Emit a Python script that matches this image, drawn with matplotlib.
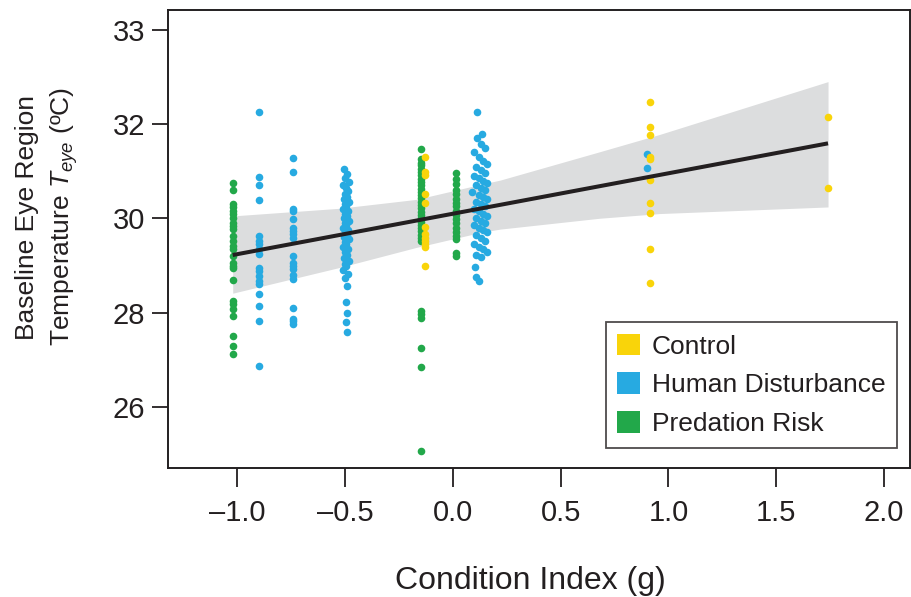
import matplotlib
matplotlib.use('Agg')
import matplotlib.pyplot as plt
from matplotlib.patches import Patch

plt.rcParams['font.family'] = ['Liberation Sans', 'DejaVu Sans']
plt.rcParams['mathtext.fontset'] = 'custom'
plt.rcParams['mathtext.it'] = 'Liberation Sans:italic'
plt.rcParams['mathtext.rm'] = 'Liberation Sans'

# Цвета групп
c_control = '#F9D40A'
c_human = '#27AAE1'
c_pred = '#22A84A'

# Данные: Predation Risk
pred_a_x = -1.02
pred_a_y = [30.74, 30.60, 30.30, 30.23, 30.16, 30.08, 30.01, 29.91, 29.84, 29.77, 29.63, 29.52,
            29.41, 29.34, 29.20, 29.06, 28.99, 28.94, 28.69, 28.25, 28.18, 28.07, 27.93, 27.50,
            27.29, 27.13]
pred_b_x = -0.145
pred_b_y = [31.48, 31.25, 31.18, 31.12, 31.05, 30.98, 30.91, 30.84, 30.77, 30.70, 30.63, 30.56,
            30.49, 30.42, 30.35, 30.28, 30.21, 30.14, 30.07, 30.00, 29.93, 29.86, 29.79, 29.72,
            29.65, 29.58, 29.52, 28.03, 27.96, 27.88, 27.24, 26.85, 25.07]
pred_c_x = 0.015
pred_c_y = [30.97, 30.83, 30.72, 30.61, 30.51, 30.40, 30.33, 30.25, 30.16, 30.06, 29.98, 29.89,
            29.80, 29.71, 29.62, 29.55, 29.26, 29.20]

# Данные: Human Disturbance
hum_a_x = -0.90
hum_a_y = [32.25, 30.88, 30.70, 30.38, 29.63, 29.52, 29.45, 29.34, 29.24, 28.95, 28.88, 28.78,
           28.67, 28.60, 28.40, 28.14, 27.81, 26.87]
hum_b_x = -0.74
hum_b_y = [31.27, 30.99, 30.19, 30.16, 29.98, 29.80, 29.73, 29.66, 29.59, 29.20, 29.06, 28.99,
           28.92, 28.79, 28.71, 28.09, 27.87, 27.81, 27.75]
hum_c_y = [31.04, 30.93, 30.85, 30.78, 30.70, 30.64, 30.58, 30.52, 30.46, 30.40, 30.35, 30.30,
           30.25, 30.20, 30.15, 30.10, 30.05, 30.00, 29.95, 29.90, 29.85, 29.80, 29.75, 29.70,
           29.65, 29.60, 29.55, 29.50, 29.45, 29.40, 29.34, 29.28, 29.22, 29.16, 29.10, 29.04,
           28.98, 28.90, 28.82, 28.74, 28.56, 28.23, 27.98, 27.80, 27.58]
hum_c_x = [-0.505, -0.49, -0.50, -0.48, -0.51, -0.495, -0.485, -0.50, -0.49, -0.505, -0.48, -0.50,
           -0.495, -0.51, -0.485, -0.50, -0.49, -0.505, -0.48, -0.50, -0.495, -0.51, -0.485, -0.50,
           -0.49, -0.505, -0.48, -0.50, -0.495, -0.51, -0.485, -0.50, -0.49, -0.505, -0.48, -0.50,
           -0.495, -0.51, -0.485, -0.50, -0.49, -0.495, -0.49, -0.495, -0.49]
hum_d_y = [32.26, 31.78, 31.70, 31.57, 31.50, 31.40, 31.29, 31.22, 31.15, 31.08, 31.02, 30.96,
           30.90, 30.85, 30.80, 30.75, 30.70, 30.65, 30.60, 30.55, 30.50, 30.45, 30.40, 30.35,
           30.30, 30.25, 30.20, 30.15, 30.10, 30.05, 30.00, 29.95, 29.90, 29.85, 29.80, 29.75,
           29.70, 29.64, 29.58, 29.52, 29.46, 29.40, 29.34, 29.28, 29.22, 29.17, 28.96, 28.75,
           28.67]
hum_d_x = [0.113, 0.136, 0.113, 0.13, 0.15, 0.10, 0.12, 0.14, 0.16, 0.11, 0.13, 0.15,
           0.10, 0.12, 0.14, 0.16, 0.11, 0.13, 0.15, 0.09, 0.12, 0.14, 0.16, 0.11,
           0.13, 0.15, 0.10, 0.12, 0.14, 0.16, 0.11, 0.13, 0.15, 0.10, 0.12, 0.14,
           0.16, 0.11, 0.13, 0.15, 0.10, 0.12, 0.14, 0.16, 0.11, 0.13, 0.105, 0.11, 0.12]
hum_e_x = 0.90
hum_e_y = [31.37, 31.07]

# Данные: Control
ctl_a_x = -0.128
ctl_a_y = [31.31, 30.98, 30.91, 30.51, 30.32, 29.82, 29.66, 29.59, 29.52, 29.45, 29.38, 28.99]
ctl_b_x = 0.915
ctl_b_y = [32.47, 31.94, 31.76, 31.30, 31.25, 30.81, 30.33, 30.12, 29.34, 28.62]
ctl_c_x = 1.74
ctl_c_y = [32.15, 30.65]

# Линия регрессии и доверительный интервал
line_x = [-1.02, 1.74]
line_y = [29.22, 31.59]
band_x = [-1.02, -0.53, -0.17, 0.13, 0.22, 0.68, 0.96, 1.74]
band_lo = [28.41, 28.95, 29.38, 29.70, 29.77, 30.00, 30.10, 30.24]
band_hi = [30.05, 30.21, 30.40, 30.72, 30.81, 31.41, 31.78, 32.90]

x_ticks = [-1.0, -0.5, 0.0, 0.5, 1.0, 1.5, 2.0]
x_tick_labels = ['\u20131.0', '\u20130.5', '0.0', '0.5', '1.0', '1.5', '2.0']
y_ticks = [26, 28, 30, 32, 34]
y_tick_labels = ['26', '28', '30', '32', '33']

fig = plt.figure(figsize=(9.12, 5.97), dpi=100)
ax = fig.add_axes([168 / 912, 1 - 468 / 597, 742 / 912, 458 / 597])

ax.fill_between(band_x, band_lo, band_hi, color='#DCDDDE', linewidth=0, zorder=1)

ms = 30
ax.scatter([pred_a_x] * len(pred_a_y), pred_a_y, s=ms, color=c_pred, linewidths=0, zorder=2)
ax.scatter([pred_b_x] * len(pred_b_y), pred_b_y, s=ms, color=c_pred, linewidths=0, zorder=2)
ax.scatter([pred_c_x] * len(pred_c_y), pred_c_y, s=ms, color=c_pred, linewidths=0, zorder=2)
ax.scatter([hum_a_x] * len(hum_a_y), hum_a_y, s=ms, color=c_human, linewidths=0, zorder=2)
ax.scatter([hum_b_x] * len(hum_b_y), hum_b_y, s=ms, color=c_human, linewidths=0, zorder=2)
ax.scatter(hum_c_x, hum_c_y, s=ms, color=c_human, linewidths=0, zorder=2)
ax.scatter(hum_d_x, hum_d_y, s=ms, color=c_human, linewidths=0, zorder=2)
ax.scatter([hum_e_x] * len(hum_e_y), hum_e_y, s=ms, color=c_human, linewidths=0, zorder=2)
ax.scatter([ctl_a_x] * len(ctl_a_y), ctl_a_y, s=ms, color=c_control, linewidths=0, zorder=3)
ax.scatter([ctl_b_x] * len(ctl_b_y), ctl_b_y, s=ms, color=c_control, linewidths=0, zorder=3)
ax.scatter([ctl_c_x] * len(ctl_c_y), ctl_c_y, s=ms, color=c_control, linewidths=0, zorder=3)

ax.plot(line_x, line_y, color='#231F20', linewidth=2.9, solid_capstyle='butt', zorder=4)

ax.set_xlim(-1.32, 2.12)
ax.set_ylim(24.7, 34.42)
ax.set_xticks(x_ticks)
ax.set_xticklabels(x_tick_labels)
ax.set_yticks(y_ticks)
ax.set_yticklabels(y_tick_labels)
ax.tick_params(axis='both', direction='out', labelsize=21, width=1.3, color='#231F20',
               labelcolor='#231F20')
ax.tick_params(axis='x', length=13.5, pad=9)
ax.tick_params(axis='y', length=11.5, pad=5)
for sp in ax.spines.values():
    sp.set_linewidth(1.4)
    sp.set_color('#231F20')

ax.set_xlabel('Condition Index (g)', fontsize=23, color='#231F20')
ax.xaxis.set_label_coords(0.489, -0.215)
ax.set_ylabel('Baseline Eye Region\nTemperature $T_{eye}$ (\u00baC)', fontsize=19,
              color='#231F20', linespacing=1.45)
ax.yaxis.set_label_coords(-0.118, 0.548)

handles = [Patch(facecolor=c_control, edgecolor='none', label='Control'),
           Patch(facecolor=c_human, edgecolor='none', label='Human Disturbance'),
           Patch(facecolor=c_pred, edgecolor='none', label='Predation Risk')]
leg = ax.legend(handles=handles, loc='lower right', bbox_to_anchor=(0.9825, 0.0437),
                borderaxespad=0, fontsize=19, fancybox=False, handlelength=0.87,
                handleheight=0.87, handletextpad=0.42, labelspacing=0.53, borderpad=0.45)
leg.get_frame().set_edgecolor('#231F20')
leg.get_frame().set_linewidth(1.3)
for t in leg.get_texts():
    t.set_color('#231F20')

fig.savefig('out.png', dpi=100)
